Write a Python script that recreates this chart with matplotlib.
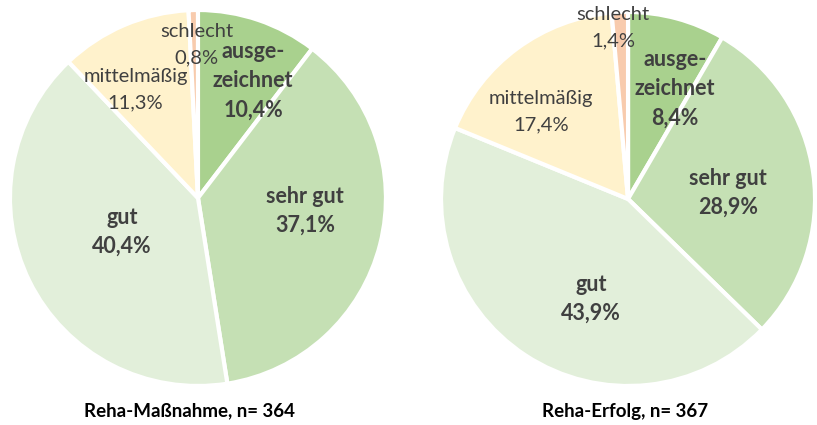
import numpy as np
import matplotlib.pyplot as plt

plt.rcParams['font.family'] = ['Lato', 'DejaVu Sans']

kategorien = ['ausge-\nzeichnet', 'sehr gut', 'gut', 'mittelmäßig', 'schlecht']
massnahme = [10.4, 37.1, 40.4, 11.3, 0.8]
erfolg = [8.4, 28.9, 43.9, 17.4, 1.4]
titel = ['Reha-Maßnahme, n= 364', 'Reha-Erfolg, n= 367']

farben = ['#A9D18E', '#C5E0B4', '#E2EFDA', '#FFF2CC', '#F8CBAD']
fett = [True, True, True, False, False]
textfarbe = '#404040'

# Label-Positionen (Abstand vom Mittelpunkt, Winkel in Grad) wie in Excel "beste Anpassung"
lage_links = [(0.688, 64.8), (0.573, -6.9), (0.443, -155.9), (0.665, 120), (0.817, 90.4)]
lage_rechts = [(0.64, 66.9), (0.535, 3.4), (0.57, -110.3), (0.66, 135), (0.92, 95)]

fig = plt.figure(figsize=(8.17, 4.25), dpi=100)
achsen = [fig.add_axes([0.0122, 0.0918, 0.4602, 0.8847]),
          fig.add_axes([0.5398, 0.0918, 0.4578, 0.88])]

for ax, werte, lage in zip(achsen, [massnahme, erfolg], [lage_links, lage_rechts]):
    ax.pie(werte, colors=farben, startangle=90, counterclock=False, radius=1,
           wedgeprops=dict(edgecolor='white', linewidth=3))
    for name, wert, (r, w), f in zip(kategorien, werte, lage, fett):
        zeilen = (name + '\n' + f"{wert:.1f}%".replace('.', ',')).split('\n')
        abstand = 21 if f else 19  # Zeilenabstand in pt
        x, y = r * np.cos(np.radians(w)), r * np.sin(np.radians(w))
        for i, z in enumerate(zeilen):
            ax.annotate(z, (x, y), xytext=(0, ((len(zeilen) - 1) / 2 - i) * abstand),
                        textcoords='offset points', ha='center', va='center',
                        color=textfarbe, fontsize=15.5 if f else 14.5,
                        fontweight='bold' if f else 'normal')
    ax.set_xlim(-1, 1)
    ax.set_ylim(-1, 1)
    ax.set_aspect('equal')
    ax.axis('off')

titelschrift = dict(ha='center', va='center', fontsize=13.5, fontweight='bold', color='black')
fig.text(190 / 817, 1 - 411 / 425, titel[0], **titelschrift)
fig.text(625 / 817, 1 - 411 / 425, titel[1], **titelschrift)

fig.savefig('out.png', dpi=100, facecolor='white')
